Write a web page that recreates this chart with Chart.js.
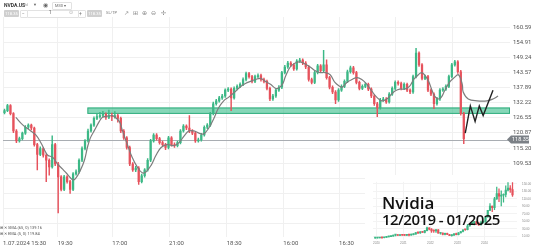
<!DOCTYPE html>
<html>
<head>
<meta charset="utf-8">
<script src="https://cdn.jsdelivr.net/npm/chart.js@4.4.1/dist/chart.umd.min.js"></script>
<style>
  body { margin: 0; background: #fff; font-family: Roboto, "Noto Sans", sans-serif; }
  #wrap { position: relative; width: 538px; height: 247px; overflow: hidden; }
  #main { position: absolute; left: 0; top: 0; }
  .bar { position: absolute; left: 0; top: 0; width: 538px; height: 17px; background: #fff; }
  .t { position: absolute; white-space: nowrap; color: #444; line-height: 1; }
  .box { position: absolute; border: 1px solid #e2e2e2; border-radius: 1px; height: 6px; }
  .grey { position: absolute; background: #cfcfcf; color: #fff; font-size: 4px; line-height: 7px; height: 7px; text-align: center; border-radius: 1px; }
  #inset { position: absolute; left: 365px; top: 175px; width: 173px; height: 72px; background: #fff; }
  #mini { position: absolute; left: 0; top: 0; }
  .big { position: absolute; left: 382px; color: #111; font-family: "Open Sans", sans-serif; font-weight: 600; white-space: nowrap; line-height: 1; }
  .leg { position: absolute; left: 0; font-size: 4px; color: #555; white-space: nowrap; line-height: 1; }
</style>
</head>
<body>
<div id="wrap">
  <canvas id="main" width="538" height="247"></canvas>

  <div class="bar">
    <div class="t" style="left:4px;top:3px;font-size:5px;font-weight:700;color:#333">NVDA.US</div>
    <div class="t" style="left:23px;top:4px;font-size:3.5px;color:#999">cfd</div>
    <div class="t" style="left:33px;top:3px;font-size:4px;color:#666">&#9660;</div>
    <div class="t" style="left:43px;top:2px;font-size:6px;color:#666">&#9673;</div>
    <div class="box" style="left:52px;top:2px;width:18px"></div>
    <div class="t" style="left:55px;top:4px;font-size:4px;color:#666">M30 &#9662;</div>

    <div class="grey" style="left:4px;top:10px;width:15px">118.35</div>
    <div class="box" style="left:20px;top:10px;width:6px"></div>
    <div class="t" style="left:22px;top:11px;font-size:5px;color:#777">&#8722;</div>
    <div class="box" style="left:27px;top:10px;width:50px"></div>
    <div class="t" style="left:49px;top:11px;font-size:4.5px;color:#555">1</div>
    <div class="t" style="left:69px;top:11px;font-size:4.5px;color:#aaa">&#8857;</div>
    <div class="box" style="left:78px;top:10px;width:6px"></div>
    <div class="t" style="left:79px;top:11px;font-size:5px;color:#777">+</div>
    <div class="grey" style="left:87px;top:10px;width:15px">118.35</div>
    <div class="t" style="left:106px;top:11px;font-size:4px;color:#777">SL/TP</div>
    <div class="t" style="left:124px;top:10px;font-size:6px;color:#888">&#8599;</div>
    <div class="t" style="left:133px;top:10px;font-size:6px;color:#888">&#8862;</div>
    <div class="t" style="left:142px;top:10px;font-size:6px;color:#888">&#8853;</div>
    <div class="t" style="left:151px;top:10px;font-size:6px;color:#888">&#8854;</div>
    <div class="t" style="left:161px;top:10px;font-size:6px;color:#888">&#10018;</div>
  </div>

  <div class="leg" style="top:226px">&#8862; &#10005; SMA (65, 0) 139.16</div>
  <div class="leg" style="top:232px">&#8862; &#10005; EMA (5, 0) 119.84</div>

  <div id="inset"><canvas id="mini" width="173" height="72"></canvas></div>
  <div class="big" style="top:194px;font-size:17px">Nvidia</div>
  <div class="big" style="top:212px;font-size:15px;letter-spacing:-0.55px">12/2019 - 01/2025</div>
</div>

<script>
// main chart: 30-minute candles [open, high, low, close]
const candles = [
  [128.5,129.8,128.0,129.2],[129.2,131.6,128.8,131.1],[131.1,131.5,127.6,128.1],[128.1,128.5,121.0,121.6],
  [121.6,122.1,117.2,117.9],[117.9,119.3,117.4,118.7],[118.7,121.2,118.2,120.8],[120.8,123.6,120.3,123.0],
  [123.0,124.3,122.5,123.8],[123.8,124.2,122.0,122.7],[122.7,123.1,115.9,116.5],[116.5,117.0,107.0,112.8],
  [112.8,115.6,112.3,115.0],[115.0,115.4,111.8,112.5],[112.5,113.0,102.6,110.6],[110.6,111.1,105.0,108.1],
  [108.1,119.8,107.6,116.5],[116.5,117.0,108.6,109.2],[109.2,109.8,90.9,104.4],[104.4,104.9,99.1,99.7],
  [99.7,105.0,99.2,104.4],[104.4,104.9,102.0,102.6],[102.6,103.1,98.2,99.7],[99.7,106.0,99.2,105.5],
  [105.5,107.0,105.0,106.3],[106.3,111.1,105.8,110.6],[110.6,115.6,110.1,115.0],[115.0,118.4,114.5,117.9],
  [117.9,122.3,117.4,121.6],[121.6,124.3,121.1,123.8],[123.8,126.9,123.3,126.3],[126.3,128.2,125.8,127.0],
  [127.0,128.6,126.4,127.4],[127.4,129.0,126.8,127.8],[127.8,128.4,125.9,126.7],[126.7,129.4,126.2,127.4],
  [127.4,128.3,125.5,127.0],[127.0,128.9,126.4,127.4],[127.4,127.9,124.9,126.3],[126.3,126.8,121.0,121.6],
  [121.6,122.1,118.4,119.0],[119.0,119.5,114.8,115.4],[115.4,115.9,108.6,109.2],[109.2,109.7,106.4,107.0],
  [107.0,108.3,106.3,107.7],[107.7,108.2,101.5,102.6],[102.6,105.4,102.1,104.8],[104.8,107.5,104.3,107.0],
  [107.0,111.2,106.5,110.6],[110.6,118.5,110.1,117.9],[117.9,120.6,117.4,120.1],[120.1,120.6,118.1,118.7],
  [118.7,119.2,116.6,117.2],[117.2,117.8,116.0,116.5],[116.5,117.0,114.6,115.4],[115.4,119.6,114.9,119.0],
  [119.0,119.5,115.9,116.5],[116.5,117.1,115.4,116.1],[116.1,117.8,115.6,117.2],[117.2,122.1,116.7,121.6],
  [121.6,124.0,121.1,123.4],[123.4,123.9,122.1,122.7],[122.7,127.4,121.0,121.6],[121.6,122.1,120.2,120.8],
  [120.8,121.3,117.3,117.9],[117.9,118.9,117.4,118.3],[118.3,120.7,117.8,120.1],[120.1,123.5,119.6,123.0],
  [123.0,124.4,122.5,123.8],[123.8,128.6,123.3,128.1],[128.1,132.4,127.6,131.8],[131.8,133.5,131.3,132.9],
  [132.9,134.6,132.4,134.0],[134.0,135.3,133.4,134.7],[134.7,137.4,134.2,136.9],[136.9,137.9,136.3,137.3],
  [137.3,137.8,129.2,134.0],[134.0,138.2,133.5,137.6],[137.6,138.9,137.0,138.3],[138.3,139.7,137.8,139.1],
  [139.1,141.5,138.6,140.9],[140.9,143.7,140.4,143.1],[143.1,143.6,141.4,142.0],[142.0,142.5,139.6,140.2],
  [140.2,142.6,139.7,142.0],[142.0,143.0,141.4,142.4],[142.4,142.9,140.3,140.9],[140.9,141.4,139.6,140.2],
  [140.2,140.7,137.0,137.6],[137.6,138.1,133.0,133.6],[133.6,135.3,133.1,134.7],[134.7,137.4,134.2,136.9],
  [136.9,138.6,136.4,138.0],[138.0,144.0,137.5,143.5],[143.5,146.2,143.0,145.6],[145.6,147.7,145.1,147.1],
  [147.1,147.6,145.8,146.4],[146.4,146.9,144.3,144.9],[144.9,148.4,144.4,147.8],[147.8,148.8,147.3,148.2],
  [148.2,148.7,146.5,147.1],[147.1,147.6,145.0,145.6],[145.6,146.1,140.3,140.9],[140.9,141.4,139.2,139.8],
  [139.8,144.1,139.3,143.5],[143.5,146.6,143.0,146.0],[146.0,146.5,143.6,144.2],[144.2,151.8,143.7,146.4],
  [146.4,148.3,141.0,141.6],[141.6,142.1,137.4,138.0],[138.0,138.5,135.6,136.2],[136.2,136.7,131.8,133.2],
  [133.2,137.5,132.7,136.9],[136.9,138.9,136.4,138.3],[138.3,140.8,137.8,140.2],[140.2,144.4,139.7,143.8],
  [143.8,145.9,143.3,145.3],[145.3,145.8,142.9,143.5],[143.5,144.0,139.2,139.8],[139.8,140.3,137.0,137.6],
  [137.6,138.9,137.1,138.3],[138.3,139.7,137.8,139.1],[139.1,139.6,136.7,137.3],[137.3,137.8,134.1,134.7],
  [134.7,135.2,131.2,131.8],[131.8,132.3,127.0,130.3],[130.3,133.8,129.8,133.2],[133.2,134.2,132.7,133.6],
  [133.6,134.1,131.9,132.5],[132.5,136.0,132.0,135.4],[135.4,138.2,134.9,137.6],[137.6,140.4,137.1,139.8],
  [139.8,140.4,138.8,139.4],[139.4,139.9,137.0,137.6],[137.6,139.7,137.1,139.1],[139.1,139.6,136.3,136.9],
  [136.9,137.4,135.6,136.2],[136.2,142.6,135.7,142.0],[142.0,152.6,141.5,150.8],[150.8,151.3,145.8,146.4],
  [146.4,146.9,140.7,141.3],[141.3,142.6,140.8,142.0],[142.0,142.5,136.3,136.9],[136.9,137.4,134.8,135.4],
  [135.4,135.9,130.0,131.8],[131.8,134.2,131.3,133.6],[133.6,137.5,133.1,136.9],[136.9,137.9,136.4,137.3],
  [137.3,138.9,136.8,138.3],[138.3,142.6,137.8,142.0],[142.0,147.0,141.5,146.4],[146.4,148.1,145.9,147.5],
  [147.5,148.0,143.2,143.8],[143.8,144.3,127.5,128.1],[128.1,128.6,116.8,118.7]
];

// SMA (65) line: [candle index, value]
const smaLine = [
  [3.8,126.7],[6.2,123.8],[8.5,121.9],[10.5,120.1],[12.2,117.2],[13.5,114.3],[14.5,112.5],[16.2,111.7],
  [17.8,109.2],[19.5,107.3],[21.2,105.2],[22.8,103.3],[23.8,103.7],[25.5,107.0],[26.8,110.6],[27.8,115.4],
  [28.8,119.0],[30.2,121.9],[31.8,125.2],[32.8,126.7],[33.8,127.0],[36.2,127.4],[36.8,127.0],[38.5,125.2],
  [39.5,121.9],[41.2,116.5],[42.8,111.7],[44.5,108.1],[46.2,105.9],[47.5,106.3],[49.2,108.8],[50.8,112.5],
  [52.5,115.4],[54.5,116.5],[56.8,116.1],[58.5,117.2],[60.2,119.7],[61.8,121.6],[63.5,121.6],[65.2,120.8],
  [66.8,120.5],[68.5,122.7],[70.2,126.3],[71.8,130.3],[73.5,132.9],[75.2,134.3],[77.5,136.5],[79.2,138.3],
  [80.8,139.4],[82.5,140.2],[84.2,140.9],[85.8,141.3],[87.5,140.2],[89.2,139.1],[90.8,137.6],[91.8,137.6],
  [93.2,139.1],[94.2,142.0],[95.8,145.6],[97.5,147.1],[99.2,147.5],[100.8,146.7],[102.5,145.6],[104.2,144.2],
  [105.8,143.5],[107.5,143.5],[109.2,142.7],[110.8,139.8],[112.5,138.3],[113.2,138.0],[114.8,139.8],[116.5,140.9],
  [118.2,141.6],[119.8,140.9],[121.5,139.1],[123.2,136.5],[124.8,134.3],[126.5,132.9],[128.2,133.6],[129.2,134.7],
  [130.8,136.5],[132.5,137.3],[134.2,137.3],[135.8,138.3],[137.2,140.9],[138.8,142.7],[139.8,143.5],[140.8,142.7],
  [142.2,140.2],[143.2,137.3],[144.2,134.7],[145.5,133.6],[146.5,134.3],[147.5,136.5],[149.2,139.8],[150.8,141.6],
  [152.2,142.7],[153.5,139.1],[153.8,136.2],[155.5,133.6],[158.5,132.9],[161.8,132.9],[163.8,133.6],[165.5,134.7]
];

// hand-drawn forecast zigzag
const forecast = [[154.5,120.8],[156.2,131.0],[157.8,125.2],[159.2,131.0],[160.5,127.4],[163.8,136.9]];

const zoneLow = 128.0, zoneHigh = 130.4, zoneStart = 27.8;
const lastPrice = 118.35;

const yTicks = [86.85, 92.52, 98.19, 103.86, 109.53, 115.20, 120.87, 126.55, 132.22, 137.89, 143.57, 149.24, 154.91, 160.59];
const xTickPos = [-0.5, 17.83, 36.17, 55.17, 74.5, 93.5, 112.17, 131.17, 150.17];
const xTickLabels = ["1.07.2024 15:30", "19:30", "17:00", "21:00", "18:30", "16:00", "16:30", "", ""];

// inset: monthly candles 12/2019 - 01/2025
const monthly = [
  [5.4,6.1,5.2,5.9],[5.9,6.6,5.7,5.9],[5.9,7.8,5.8,6.7],[6.7,7.3,4.5,6.6],[6.6,7.5,6.2,7.3],[7.3,9.0,7.1,8.9],
  [8.9,9.7,8.6,9.5],[9.5,10.8,9.4,10.6],[10.6,13.5,10.4,13.4],[13.4,14.7,11.6,13.5],[13.5,14.6,12.5,12.5],
  [12.5,14.0,12.3,13.4],[13.4,13.9,12.8,13.1],[13.1,14.6,12.8,13.0],[13.0,15.4,12.9,13.7],[13.7,14.2,11.5,13.3],
  [13.3,16.0,13.2,15.0],[15.0,16.6,13.8,16.3],[16.3,20.3,16.2,20.0],[20.0,20.8,17.6,19.5],[19.5,23.0,18.0,22.4],
  [22.4,23.1,20.6,20.7],[20.7,25.9,19.5,25.6],[25.6,34.6,24.9,32.7],[32.7,32.9,27.5,29.4],[29.4,31.0,20.9,24.5],
  [24.5,27.8,20.8,24.4],[24.4,29.0,20.6,27.3],[27.3,27.9,18.5,18.5],[18.5,19.9,15.7,18.7],[18.7,19.4,14.0,15.2],
  [15.2,18.8,14.0,18.2],[18.2,19.2,15.0,15.1],[15.1,15.5,12.1,12.1],[12.1,14.1,10.8,13.5],[13.5,17.3,13.0,16.9],
  [16.9,18.8,13.9,14.6],[14.6,20.1,14.0,19.5],[19.5,23.8,19.0,23.2],[23.2,27.8,22.3,27.8],[27.8,28.2,26.2,27.7],
  [27.7,41.9,27.5,37.8],[37.8,43.9,37.2,42.3],[42.3,48.1,41.5,46.7],[46.7,50.2,40.3,49.3],[49.3,49.6,41.0,43.5],
  [43.5,47.7,39.2,40.8],[40.8,50.5,40.7,46.8],[46.8,50.5,45.0,49.5],[49.5,63.5,47.3,61.5],[61.5,79.4,61.0,79.1],
  [79.1,97.4,79.1,90.4],[90.4,90.5,75.6,86.4],[86.4,114.0,81.0,109.6],[109.6,140.8,108.0,123.5],[123.5,136.2,102.5,117.0],
  [117.0,131.3,90.7,119.4],[119.4,122.9,100.9,121.4],[121.4,144.4,115.1,132.8],[132.8,152.9,130.5,138.3],
  [138.3,144.9,126.9,134.3],[134.3,153.1,116.3,120.1]
];
const miniTicks = [10, 20, 30, 40, 50, 60, 70, 80, 90, 100, 110, 120, 130, 140, 150];
const miniXPos = [0.5, 12.5, 24.5, 36.5, 48.5];
const miniXLabels = ["2020", "2021", "2022", "2023", "2024"];

const UP = "#3cb886", DOWN = "#e6525c";
const colorOf = c => (c[3] >= c[0] ? UP : DOWN);

function candleSets(list, wickW, bodyW) {
  return [
    {
      type: "bar", grouped: false, barThickness: wickW, order: 3,
      data: list.map((c, i) => ({ x: i, y: [c[2], c[1]] })),
      backgroundColor: ctx => colorOf(list[ctx.dataIndex])
    },
    {
      type: "bar", grouped: false, barThickness: bodyW, minBarLength: 1, order: 2,
      data: list.map((c, i) => ({ x: i, y: [Math.min(c[0], c[3]), Math.max(c[0], c[3])] })),
      backgroundColor: ctx => colorOf(list[ctx.dataIndex])
    }
  ];
}

const overlays = {
  id: "overlays",
  beforeDatasetsDraw(chart) {
    const { ctx, chartArea, scales: { x, y } } = chart;
    const x0 = x.getPixelForValue(zoneStart);
    const yt = y.getPixelForValue(zoneHigh), yb = y.getPixelForValue(zoneLow);
    ctx.save();
    ctx.fillStyle = "rgba(60,190,140,0.62)";
    ctx.fillRect(x0, yt, chartArea.right - x0, yb - yt);
    ctx.strokeStyle = "rgba(40,170,120,0.9)";
    ctx.lineWidth = 1;
    ctx.strokeRect(x0 + 0.5, yt + 0.5, chartArea.right - x0 - 1, yb - yt - 1);
    const yl = Math.round(y.getPixelForValue(lastPrice)) + 0.5;
    ctx.strokeStyle = "#a9adb2";
    ctx.beginPath();
    ctx.moveTo(chartArea.left, yl);
    ctx.lineTo(chartArea.right, yl);
    ctx.stroke();
    ctx.restore();
  },
  afterDraw(chart) {
    const { ctx, chartArea, scales: { y } } = chart;
    const yl = y.getPixelForValue(lastPrice);
    ctx.save();
    ctx.fillStyle = "#7b8086";
    ctx.beginPath();
    ctx.moveTo(chartArea.right - 3, yl);
    ctx.lineTo(chartArea.right + 1, yl - 4);
    ctx.lineTo(chartArea.right + 19, yl - 4);
    ctx.lineTo(chartArea.right + 19, yl + 4);
    ctx.lineTo(chartArea.right + 1, yl + 4);
    ctx.closePath();
    ctx.fill();
    ctx.fillStyle = "#fff";
    ctx.font = "5.5px Roboto";
    ctx.textBaseline = "middle";
    ctx.fillText(lastPrice.toFixed(2), chartArea.right + 2, yl + 0.5);
    ctx.restore();
  }
};

new Chart(document.getElementById("main"), {
  type: "bar",
  data: {
    datasets: [
      ...candleSets(candles, 0.8, 1.6),
      {
        type: "line", order: 1, data: smaLine.map(p => ({ x: p[0], y: p[1] })),
        borderColor: "#7d7d7d", borderWidth: 1.2, pointRadius: 0, tension: 0.4
      },
      {
        type: "line", order: 0, data: forecast.map(p => ({ x: p[0], y: p[1] })),
        borderColor: "#222", borderWidth: 1.4, pointRadius: 0, tension: 0
      }
    ]
  },
  options: {
    responsive: false, animation: false,
    layout: { padding: 0 },
    plugins: { legend: { display: false }, tooltip: { enabled: false } },
    scales: {
      x: {
        type: "linear", min: -0.5, max: 169.5, offset: false,
        afterBuildTicks: s => { s.ticks = xTickPos.map(v => ({ value: v })); },
        afterFit: s => { s.height = 10; },
        grid: { color: "#f0f0f0", drawTicks: false, offset: false },
        border: { display: false },
        ticks: {
          autoSkip: false, maxRotation: 0, align: "start", padding: 3, color: "#555",
          font: { family: "Roboto", size: 6 },
          callback: (v, i) => xTickLabels[i]
        }
      },
      y: {
        position: "right", min: 81.82, max: 168.25,
        afterBuildTicks: s => { s.ticks = yTicks.map(v => ({ value: v })); },
        afterFit: s => { s.width = 28; },
        grid: { color: "#f0f0f0", drawTicks: false },
        border: { display: false },
        ticks: {
          padding: 3, color: "#555", font: { family: "Roboto", size: 6 },
          callback: v => v.toFixed(2)
        }
      }
    }
  },
  plugins: [overlays]
});

new Chart(document.getElementById("mini"), {
  type: "bar",
  data: { datasets: candleSets(monthly, 0.6, 1.5) },
  options: {
    responsive: false, animation: false,
    layout: { padding: { left: 8, top: 2 } },
    plugins: { legend: { display: false }, tooltip: { enabled: false } },
    scales: {
      x: {
        type: "linear", min: -1, max: 63, offset: false,
        afterBuildTicks: s => { s.ticks = miniXPos.map(v => ({ value: v })); },
        afterFit: s => { s.height = 6; },
        grid: { color: "#f3f3f3", drawTicks: false, offset: false },
        border: { display: false },
        ticks: { autoSkip: false, maxRotation: 0, padding: 1, color: "#888", font: { size: 3 }, callback: (v, i) => miniXLabels[i] }
      },
      y: {
        position: "right", min: 0, max: 155,
        afterBuildTicks: s => { s.ticks = miniTicks.map(v => ({ value: v })); },
        afterFit: s => { s.width = 21; },
        grid: { color: "#f3f3f3", drawTicks: false },
        border: { display: false },
        ticks: { padding: 5, color: "#888", font: { size: 3 }, callback: v => v.toFixed(2) }
      }
    }
  }
});
</script>
</body>
</html>
